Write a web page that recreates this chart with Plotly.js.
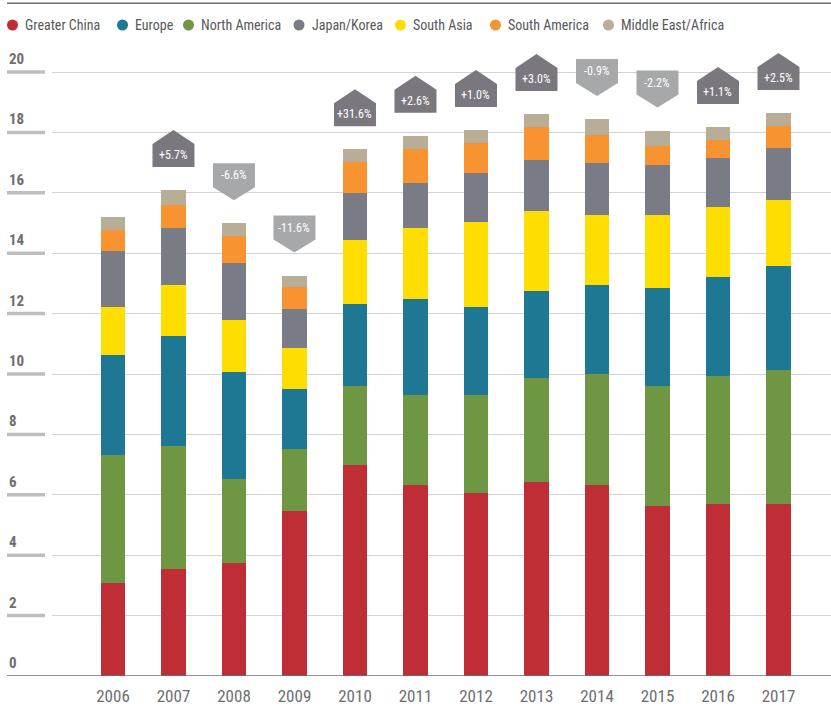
<!DOCTYPE html>
<html>
<head>
<meta charset="utf-8">
<script src="https://cdn.plot.ly/plotly-3.0.1.min.js"></script>
<style>html,body{margin:0;padding:0;background:#fff;}#chart{width:831px;height:709px;}</style>
</head>
<body>
<div id="chart"></div>
<script>
// ---- data ----
var years = [2006, 2007, 2008, 2009, 2010, 2011, 2012, 2013, 2014, 2015, 2016, 2017];
var greaterChina     = [3.07, 3.54, 3.74, 5.46, 6.99, 6.32, 6.07, 6.44, 6.32, 5.63, 5.69, 5.69];
var northAmerica     = [4.24, 4.07, 2.77, 2.05, 2.61, 3.00, 3.25, 3.42, 3.69, 3.97, 4.23, 4.44];
var europe           = [3.31, 3.64, 3.55, 1.99, 2.71, 3.15, 2.89, 2.90, 2.95, 3.26, 3.30, 3.43];
var southAsia        = [1.59, 1.69, 1.73, 1.35, 2.12, 2.38, 2.83, 2.64, 2.32, 2.42, 2.32, 2.20];
var japanKorea       = [1.85, 1.88, 1.87, 1.30, 1.58, 1.48, 1.63, 1.70, 1.72, 1.65, 1.61, 1.73];
var southAmerica     = [0.70, 0.77, 0.90, 0.72, 1.01, 1.13, 0.98, 1.08, 0.93, 0.63, 0.60, 0.73];
var middleEastAfrica = [0.43, 0.50, 0.43, 0.39, 0.42, 0.43, 0.43, 0.43, 0.51, 0.50, 0.43, 0.42];
var changeLabels = [null, "+5.7%", "-6.6%", "-11.6%", "+31.6%", "+2.6%", "+1.0%", "+3.0%", "-0.9%", "-2.2%", "+1.1%", "+2.5%"];
var yTicks = [0, 2, 4, 6, 8, 10, 12, 14, 16, 18, 20];
var legendNames = ["Greater China", "Europe", "North America", "Japan/Korea", "South Asia", "South America", "Middle East/Africa"];

// ---- styling ----
var FONT = "'Roboto Condensed', 'Liberation Sans Narrow', 'Arial Narrow', 'DejaVu Sans Condensed', sans-serif";
var colors = {
  "Greater China": "#bf2d36",
  "Europe": "#1f7893",
  "North America": "#6e9643",
  "Japan/Korea": "#797b85",
  "South Asia": "#fedd00",
  "South America": "#f79330",
  "Middle East/Africa": "#b8ad96"
};
var stackOrder = [
  ["Greater China", greaterChina],
  ["North America", northAmerica],
  ["Europe", europe],
  ["South Asia", southAsia],
  ["Japan/Korea", japanKorea],
  ["South America", southAmerica],
  ["Middle East/Africa", middleEastAfrica]
];

var W = 831, H = 709, ML = 52, MR = 0, MT = 35, MB = 33;
var PW = W - ML - MR, PH = H - MT - MB;
var PX_PER_UNIT = 30.2;
var yTop = PH / PX_PER_UNIT;
function px2paperX(px) { return (px - ML) / PW; }
function px2paperY(py) { return 1 + (MT - py) / PH; }

var traces = stackOrder.map(function (s) {
  return {
    type: "bar",
    name: s[0],
    x: years,
    y: s[1],
    width: 0.41,
    marker: { color: colors[s[0]], line: { width: 0 } },
    showlegend: false,
    hoverinfo: "skip"
  };
});

var totals = years.map(function (_, i) {
  return stackOrder.reduce(function (acc, s) { return acc + s[1][i]; }, 0);
});

var shapes = [];
var annotations = [];

// y tick labels + thick tick bars
yTicks.forEach(function (v) {
  annotations.push({
    xref: "paper", yref: "y", x: px2paperX(7), y: v, xanchor: "left", yanchor: "middle",
    yshift: 13, text: String(v), showarrow: false,
    font: { family: FONT, size: 15, color: "#6d6e71", weight: "bold" }
  });
  if (v !== 0) {
    shapes.push({
      type: "line", xref: "paper", yref: "y", x0: px2paperX(7), x1: px2paperX(45), y0: v, y1: v,
      line: { color: "#bcbec0", width: 3.5 }, layer: "above"
    });
  }
});

// bottom axis line
shapes.push({
  type: "line", xref: "paper", yref: "y", x0: px2paperX(7), x1: 1, y0: 0, y1: 0,
  line: { color: "#6d6e71", width: 1.5 }, layer: "above"
});
// top rule
shapes.push({
  type: "line", xref: "paper", yref: "paper", x0: px2paperX(7), x1: 1, y0: px2paperY(3.3), y1: px2paperY(3.3),
  line: { color: "#6d6e71", width: 1.5 }
});

// change markers
changeLabels.forEach(function (lab, i) {
  if (!lab) return;
  var up = lab.charAt(0) === "+";
  var path = up
    ? "M-21,23 L21,23 L21,46 L0,60 L-21,46 Z"
    : "M0,23 L21,36 L21,60 L-21,60 L-21,36 Z";
  shapes.push({
    type: "path", xref: "x", yref: "y",
    xsizemode: "pixel", ysizemode: "pixel",
    xanchor: years[i], yanchor: totals[i],
    path: path,
    fillcolor: up ? "#7a787e" : "#a7a8aa",
    line: { width: 0 }, layer: "above"
  });
  annotations.push({
    x: years[i], y: totals[i], xref: "x", yref: "y",
    text: lab, showarrow: false, xanchor: "center", yanchor: "middle",
    yshift: up ? 35 : 48,
    font: { family: FONT, size: 12, color: "#ffffff" }
  });
});

// legend (manual)
var legendCx = [12.5, 122.5, 188.5, 299, 400.5, 495.5, 608.5];
legendNames.forEach(function (n, i) {
  var cx = legendCx[i], cy = 25;
  shapes.push({
    type: "circle", xref: "paper", yref: "paper",
    xsizemode: "pixel", ysizemode: "pixel",
    xanchor: px2paperX(cx), yanchor: px2paperY(cy),
    x0: -5.5, x1: 5.5, y0: -5.5, y1: 5.5,
    fillcolor: colors[n], line: { width: 0 }
  });
  annotations.push({
    xref: "paper", yref: "paper", x: px2paperX(cx + 10.5), y: px2paperY(cy),
    xanchor: "left", yanchor: "middle", text: n, showarrow: false,
    font: { family: FONT, size: 14, color: "#58595b" }
  });
});

var layout = {
  width: W, height: H,
  margin: { l: ML, r: MR, t: MT, b: MB, pad: 0 },
  paper_bgcolor: "#ffffff", plot_bgcolor: "#ffffff",
  barmode: "stack",
  showlegend: false,
  xaxis: {
    type: "linear",
    range: [years[0] - 1.008, years[years.length - 1] + 0.868],
    tickvals: years, ticktext: years.map(String),
    showgrid: false, zeroline: false, showline: false, ticks: "",
    ticklabelstandoff: 8,
    tickfont: { family: FONT, size: 17, color: "#6d6e71" }
  },
  yaxis: {
    range: [0, yTop], tickvals: yTicks, showticklabels: false,
    showgrid: true, gridcolor: "#d2d3d5", gridwidth: 1,
    zeroline: false, showline: false, ticks: ""
  },
  shapes: shapes,
  annotations: annotations
};

Plotly.newPlot("chart", traces, layout, { staticPlot: true, displayModeBar: false });
</script>
</body>
</html>
